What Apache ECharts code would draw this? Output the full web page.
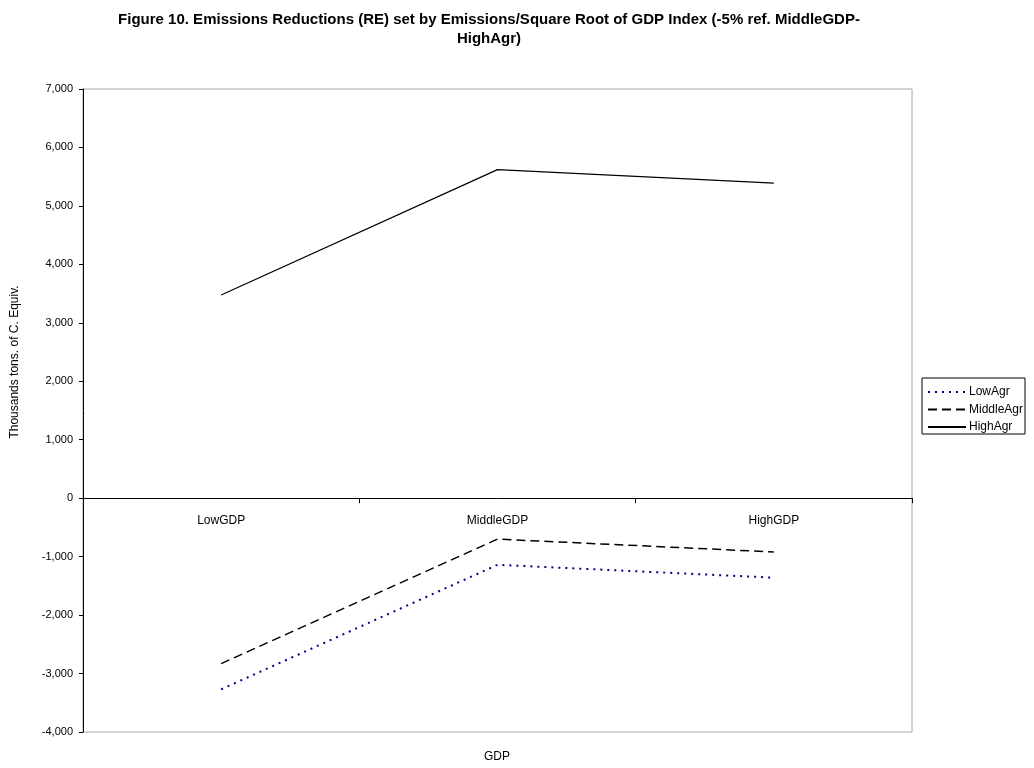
<!DOCTYPE html>
<html>
<head>
<meta charset="utf-8">
<script src="https://cdn.jsdelivr.net/npm/echarts@6/dist/echarts.min.js"></script>
<style>
  html, body { margin: 0; padding: 0; background: #fff; }
  #chart { width: 1034px; height: 768px; }
</style>
</head>
<body>
<div id="chart"></div>
<script>
// GDP groups on the category axis
const categories = ['LowGDP', 'MiddleGDP', 'HighGDP'];

// Emissions reductions, thousand tons of carbon equivalent
const lowAgr = [-3270, -1140, -1360];
const middleAgr = [-2830, -700, -920];
const highAgr = [3475, 5620, 5390];

// Value axis range and step
const yMin = -4000;
const yMax = 7000;
const yStep = 1000;

const titleText = 'Figure 10. Emissions Reductions (RE) set by Emissions/Square Root of GDP Index (-5% ref. MiddleGDP-\nHighAgr)';
const yName = 'Thousands tons. of C. Equiv.';
const xName = 'GDP';

const FONT = '"Liberation Sans", Arial, sans-serif';

const chart = echarts.init(document.getElementById('chart'), null, { renderer: 'canvas' });

chart.setOption({
  animation: false,
  backgroundColor: '#ffffff',
  textStyle: { fontFamily: FONT, color: '#000' },
  title: {
    text: titleText,
    left: 484,
    top: 5,
    textAlign: 'center',
    textStyle: { fontFamily: FONT, fontSize: 15, fontWeight: 'bold', color: '#000', lineHeight: 19 }
  },
  grid: {
    show: true, borderColor: '#a6a6a6', borderWidth: 1, backgroundColor: 'transparent',
    left: 83, right: 122, top: 89, bottom: 36
  },
  legend: {
    orient: 'vertical',
    left: 922,
    top: 378,
    itemWidth: 38,
    itemHeight: 12,
    itemGap: 5.5,
    padding: [8, 2, 1, 5],
    borderColor: '#000',
    borderWidth: 1,
    itemStyle: { color: 'transparent', borderWidth: 0, opacity: 0 },
    textStyle: { fontFamily: FONT, fontSize: 12, color: '#000', padding: [0, 0, 0, -2] },
    data: ['LowAgr', 'MiddleAgr', 'HighAgr']
  },
  xAxis: {
    type: 'category',
    data: categories,
    boundaryGap: true,
    axisLine: { show: true, onZero: true, lineStyle: { color: '#000', width: 1 } },
    axisTick: { show: true, inside: false, length: 5, alignWithLabel: false, lineStyle: { color: '#000' } },
    axisLabel: { show: false },
    splitLine: { show: false }
  },
  yAxis: {
    type: 'value',
    min: yMin,
    max: yMax,
    interval: yStep,
    axisLine: { show: true, lineStyle: { color: '#000', width: 1 } },
    axisTick: { show: true, inside: false, length: 4, lineStyle: { color: '#000' } },
    axisLabel: {
      color: '#000', fontSize: 11, fontFamily: FONT, margin: 10,
      formatter: v => v.toLocaleString('en-US')
    },
    splitLine: { show: false }
  },
  series: [
    {
      name: 'LowAgr', type: 'line', data: lowAgr,
      symbol: 'none',
      color: '#000080',
      lineStyle: { color: '#000080', width: 2, type: [2, 5] }
    },
    {
      name: 'MiddleAgr', type: 'line', data: middleAgr,
      symbol: 'none',
      color: '#000',
      lineStyle: { color: '#000', width: 1.5, type: [9, 5] }
    },
    {
      name: 'HighAgr', type: 'line', data: highAgr,
      symbol: 'none',
      color: '#000',
      lineStyle: { color: '#000', width: 1.2, type: 'solid' }
    }
  ]
});

// Category labels sit just under the zero line; place them through the axis scales.
const zeroY = chart.convertToPixel({ yAxisIndex: 0 }, 0);
const catLabels = categories.map(c => ({
  type: 'text',
  x: chart.convertToPixel({ xAxisIndex: 0 }, c),
  y: zeroY + 23,
  style: { text: c, fill: '#000', font: '12px ' + FONT, textAlign: 'center', textVerticalAlign: 'middle' }
}));

chart.setOption({
  graphic: [
    {
      type: 'text',
      x: 15, y: 362,
      rotation: Math.PI / 2,
      style: { text: yName, fill: '#000', font: '12px ' + FONT, textAlign: 'center', textVerticalAlign: 'middle' }
    },
    {
      type: 'text',
      x: 497, y: 757,
      style: { text: xName, fill: '#000', font: '12px ' + FONT, textAlign: 'center', textVerticalAlign: 'middle' }
    }
  ].concat(catLabels)
});
</script>
</body>
</html>
